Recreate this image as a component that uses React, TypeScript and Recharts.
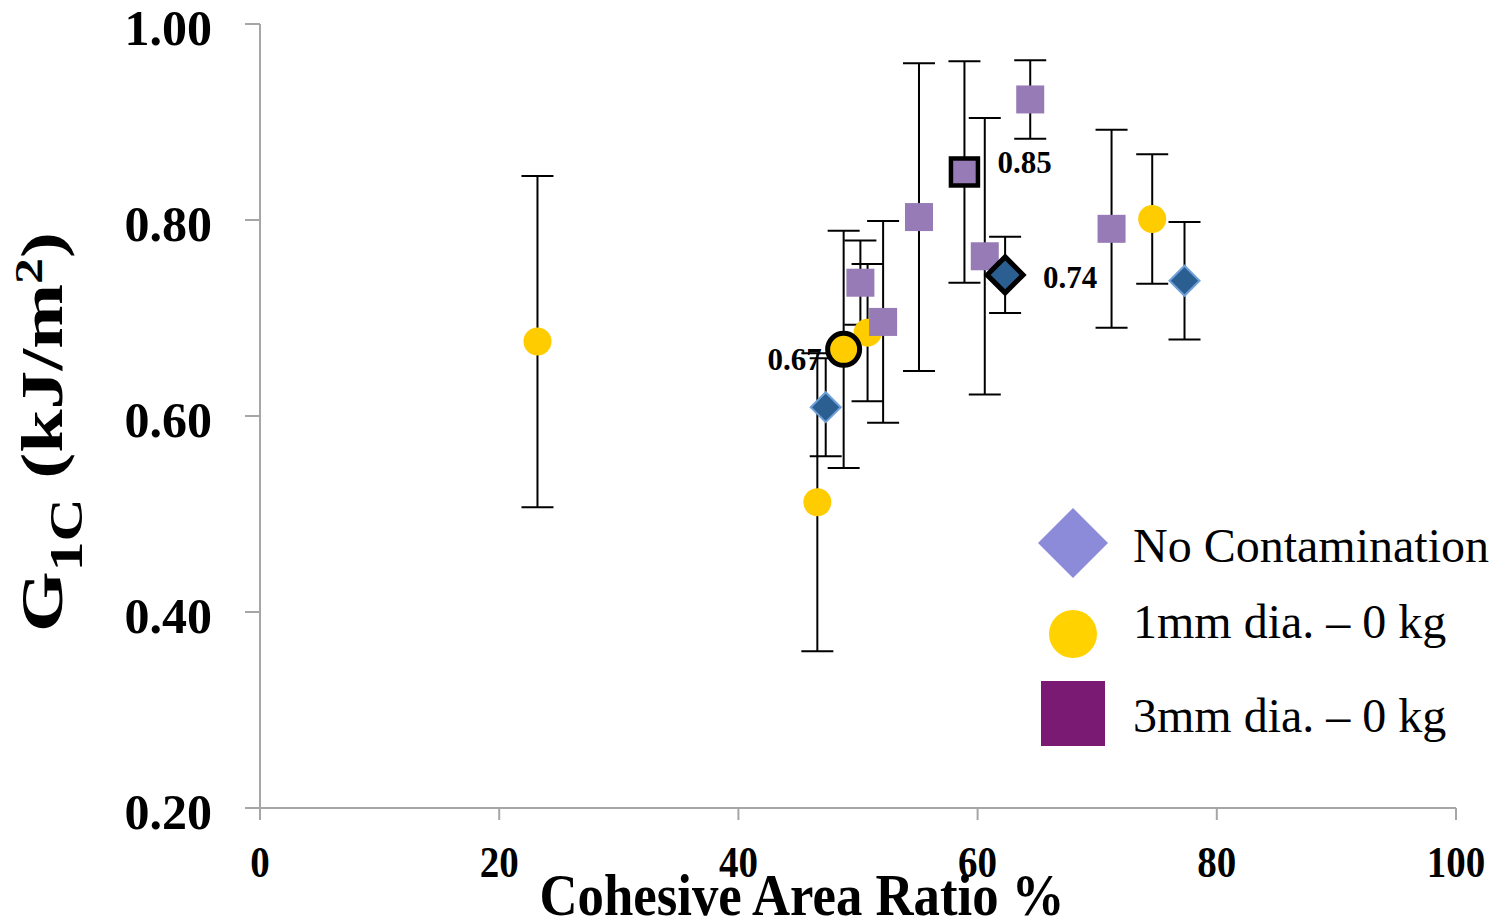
import { ErrorBar, Scatter, ScatterChart, XAxis, YAxis } from "recharts";

const X_TICKS = [0, 20, 40, 60, 80, 100];
const Y_TICKS = [0.2, 0.4, 0.6, 0.8, 1.0];

// G1C mean values with +/- error (kJ/m2) vs cohesive area ratio (%)
const noContamination = [
  { x: 47.3, y: 0.609, err: 0.05 },
  { x: 77.3, y: 0.738, err: 0.06 },
];
const noContaminationMarked = [{ x: 62.3, y: 0.744, err: 0.039 }];

const oneMm = [
  { x: 23.2, y: 0.676, err: 0.169 },
  { x: 46.6, y: 0.512, err: 0.152 },
  { x: 50.8, y: 0.685, err: 0.07 },
  { x: 74.6, y: 0.801, err: 0.066 },
];
const oneMmMarked = [{ x: 48.8, y: 0.668, err: 0.121 }];

const threeMm = [
  { x: 50.2, y: 0.736, err: 0.043 },
  { x: 52.1, y: 0.696, err: 0.103 },
  { x: 55.1, y: 0.803, err: 0.157 },
  { x: 60.6, y: 0.763, err: 0.141 },
  { x: 64.4, y: 0.923, err: 0.04 },
  { x: 71.2, y: 0.791, err: 0.101 },
];
const threeMmMarked = [{ x: 58.9, y: 0.849, err: 0.113 }];

const SERIES_NAMES = ["No Contamination", "1mm dia. \u2013 0 kg", "3mm dia. \u2013 0 kg"];

const FONT = '"Liberation Serif", "Times New Roman", serif';
const AXIS_GREY = "#a6a6a6";

const DIAMOND_FILL = "#2b5f92";
const DIAMOND_EDGE = "#6fa0d8";
const CIRCLE_FILL = "#ffcc00";
const SQUARE_FILL = "#967bb6";

const diamondPath = (cx: number, cy: number, r: number) =>
  `M${cx},${cy - r}L${cx + r},${cy}L${cx},${cy + r}L${cx - r},${cy}Z`;

const Diamond = (p: any) => (
  <path d={diamondPath(p.cx, p.cy, 15)} fill={DIAMOND_FILL} stroke={DIAMOND_EDGE} strokeWidth={2} />
);
const Dot = (p: any) => <circle cx={p.cx} cy={p.cy} r={14} fill={CIRCLE_FILL} />;
const Square = (p: any) => (
  <rect x={p.cx - 14} y={p.cy - 14} width={28} height={28} fill={SQUARE_FILL} />
);

const valueText = (v: number, x: number, y: number, anchor: "start" | "end") => (
  <text x={x} y={y} textAnchor={anchor} fontFamily={FONT} fontWeight="bold" fontSize={31} fill="#000">
    {v.toFixed(2)}
  </text>
);

const DiamondMarked = (p: any) => (
  <g>
    <path d={diamondPath(p.cx, p.cy, 18)} fill={DIAMOND_FILL} stroke="#000" strokeWidth={5} />
    {valueText(p.payload.y, p.cx + 38, p.cy + 13, "start")}
  </g>
);
const DotMarked = (p: any) => (
  <g>
    <circle cx={p.cx} cy={p.cy} r={16} fill={CIRCLE_FILL} stroke="#000" strokeWidth={5} />
    {valueText(p.payload.y, p.cx - 22, p.cy + 21, "end")}
  </g>
);
const SquareMarked = (p: any) => (
  <g>
    <rect x={p.cx - 13.5} y={p.cy - 13.5} width={27} height={27} fill={SQUARE_FILL} stroke="#000" strokeWidth={4.5} />
    {valueText(p.payload.y, p.cx + 33, p.cy + 1, "start")}
  </g>
);

const XTick = ({ x, payload }: any) => {
  const s = String(payload.value);
  return (
    <text x={x} y={877} textAnchor="middle" fontFamily={FONT} fontWeight="bold" fontSize={44}
      textLength={s.length * 19.5} lengthAdjust="spacingAndGlyphs" fill="#000">
      {s}
    </text>
  );
};

const YTick = ({ x, y, payload }: any) => (
  <text x={x} y={y + 21} textAnchor="end" fontFamily={FONT} fontWeight="bold" fontSize={50} fill="#000">
    {Number(payload.value).toFixed(2)}
  </text>
);

const XTitle = () => (
  <text x={802} y={915} textAnchor="middle" fontFamily={FONT} fontWeight="bold" fontSize={60}
    textLength={525} lengthAdjust="spacingAndGlyphs" fill="#000">
    Cohesive Area Ratio %
  </text>
);

const YTitle = () => (
  <text x={0} y={0} transform="translate(62,432) rotate(-90)" textAnchor="middle" fontFamily={FONT}
    fontWeight="bold" fontSize={60} textLength={400} lengthAdjust="spacingAndGlyphs" fill="#000">
    G
    <tspan fontSize={46} dy={20}>1C</tspan>
    <tspan dy={-20}> (kJ/m</tspan>
    <tspan fontSize={40} dy={-20}>2</tspan>
    <tspan dy={20}>)</tspan>
  </text>
);

const errorBar = <ErrorBar dataKey="err" direction="y" width={16} stroke="#000" strokeWidth={2} />;

function LegendBox() {
  return (
    <svg width={477} height={260} style={{ position: "absolute", left: 1020, top: 500 }}>
      <path d={diamondPath(53, 43, 35)} fill="#8b8bd9" />
      <circle cx={53} cy={134} r={24} fill="#ffd200" />
      <rect x={21} y={181} width={64} height={65} fill="#7b1a73" />
      {SERIES_NAMES.map((name, i) => (
        <text key={name} x={113} y={[62, 138, 232][i]} fontFamily={FONT} fontSize={48} fill="#000">
          {name}
        </text>
      ))}
    </svg>
  );
}

export default function App() {
  return (
    <div style={{ position: "absolute", left: 0, top: 0, width: 1497, height: 919, background: "#fff" }}>
      <ScatterChart width={1497} height={919} margin={{ top: 24, right: 41, bottom: 0, left: 0 }}>
        <XAxis
          type="number"
          dataKey="x"
          domain={[0, 100]}
          ticks={X_TICKS}
          height={111}
          stroke={AXIS_GREY}
          strokeWidth={2}
          tickSize={12}
          tick={<XTick />}
          label={{ content: () => <XTitle /> }}
        />
        <YAxis
          type="number"
          dataKey="y"
          domain={[0.2, 1.0]}
          ticks={Y_TICKS}
          width={260}
          stroke={AXIS_GREY}
          strokeWidth={2}
          tickSize={15}
          tickMargin={33}
          tick={<YTick />}
          label={{ content: () => <YTitle /> }}
        />
        <Scatter name={SERIES_NAMES[1]} data={oneMm} shape={Dot} isAnimationActive={false}>
          {errorBar}
        </Scatter>
        <Scatter name={SERIES_NAMES[2]} data={threeMm} shape={Square} isAnimationActive={false}>
          {errorBar}
        </Scatter>
        <Scatter name={SERIES_NAMES[0]} data={noContamination} shape={Diamond} isAnimationActive={false}>
          {errorBar}
        </Scatter>
        <Scatter data={oneMmMarked} shape={DotMarked} isAnimationActive={false}>
          {errorBar}
        </Scatter>
        <Scatter data={threeMmMarked} shape={SquareMarked} isAnimationActive={false}>
          {errorBar}
        </Scatter>
        <Scatter data={noContaminationMarked} shape={DiamondMarked} isAnimationActive={false}>
          {errorBar}
        </Scatter>
      </ScatterChart>
      <LegendBox />
    </div>
  );
}
